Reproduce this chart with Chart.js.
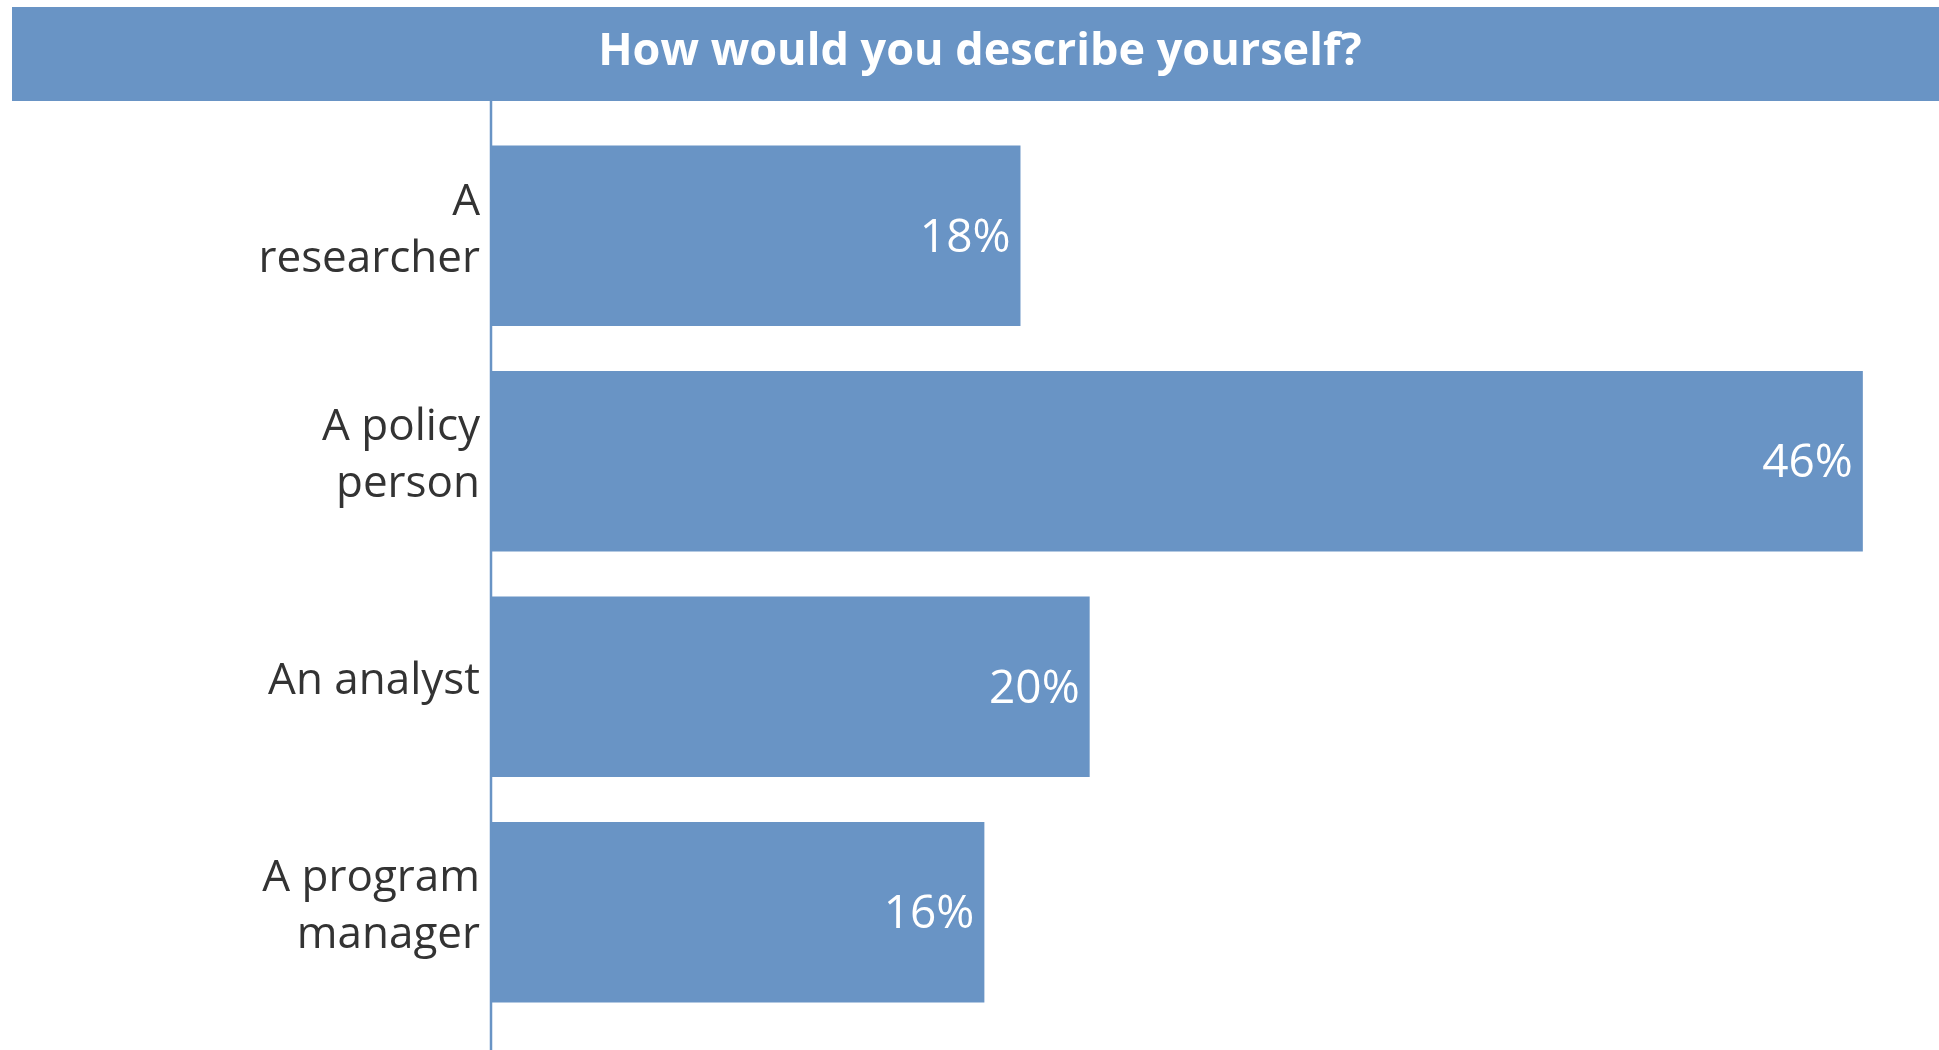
<!DOCTYPE html>
<html>
<head>
<meta charset="utf-8">
<script src="https://cdn.jsdelivr.net/npm/chart.js@4"></script>
<style>
  html, body { margin: 0; padding: 0; background: #ffffff; }
  #wrap { width: 1939px; height: 1050px; position: relative; }
</style>
</head>
<body>
<div id="wrap"><canvas id="c" width="1939" height="1050"></canvas></div>
<script>
// ---- data ----
const chartTitle = 'How would you describe yourself?';
const categories = [['A', 'researcher'], ['A policy', 'person'], 'An analyst', ['A program', 'manager']];
const shares = [17.6, 45.6, 19.9, 16.4];

// ---- style ----
const BLUE = '#6994C5';
const FONT = '"Open Sans"';

const bannerPlugin = {
  id: 'banner',
  beforeDraw(chart) {
    const ctx = chart.ctx;
    ctx.save();
    ctx.fillStyle = BLUE;
    ctx.fillRect(12, 7, chart.width - 12, 94);
    ctx.fillStyle = '#ffffff';
    ctx.font = 'bold 45px ' + FONT;
    ctx.textAlign = 'center';
    ctx.textBaseline = 'middle';
    ctx.fillText(chartTitle, 980, 52);
    ctx.restore();
  },
  afterDraw(chart) {
    const ctx = chart.ctx;
    const x = chart.scales.x.getPixelForValue(0);
    ctx.save();
    ctx.strokeStyle = BLUE;
    ctx.lineWidth = 2.5;
    ctx.beginPath();
    ctx.moveTo(x, 101);
    ctx.lineTo(x, chart.height);
    ctx.stroke();
    ctx.restore();
  }
};

const valueLabels = {
  id: 'valueLabels',
  afterDatasetsDraw(chart) {
    const ctx = chart.ctx;
    const meta = chart.getDatasetMeta(0);
    ctx.save();
    ctx.fillStyle = '#ffffff';
    ctx.font = '46px ' + FONT;
    ctx.textAlign = 'right';
    ctx.textBaseline = 'middle';
    meta.data.forEach((bar, i) => {
      const v = chart.data.datasets[0].data[i];
      ctx.fillText(Math.round(v) + '%', bar.x - 10, bar.y + 3);
    });
    ctx.restore();
  }
};

new Chart(document.getElementById('c'), {
  type: 'bar',
  data: {
    labels: categories,
    datasets: [{
      data: shares,
      backgroundColor: BLUE,
      borderWidth: 0,
      barPercentage: 0.8,
      categoryPercentage: 1.0
    }]
  },
  options: {
    indexAxis: 'y',
    responsive: false,
    animation: false,
    devicePixelRatio: 1,
    layout: { padding: { top: 123, bottom: 25, left: 0, right: 19 } },
    plugins: {
      legend: { display: false },
      title: { display: false },
      tooltip: { enabled: false }
    },
    scales: {
      x: {
        display: false,
        min: 0,
        max: 47.5
      },
      y: {
        grid: { display: false, drawTicks: false, tickLength: 0 },
        border: { display: false },
        ticks: {
          color: '#333333',
          padding: 11,
          labelOffset: -5,
          font: { family: 'Open Sans', size: 44, lineHeight: 1.3 }
        },
        afterFit(scale) {
          scale.width = 491;
          scale.paddingTop = 0;
          scale.paddingBottom = 0;
        }
      }
    }
  },
  plugins: [bannerPlugin, valueLabels]
});
</script>
</body>
</html>
